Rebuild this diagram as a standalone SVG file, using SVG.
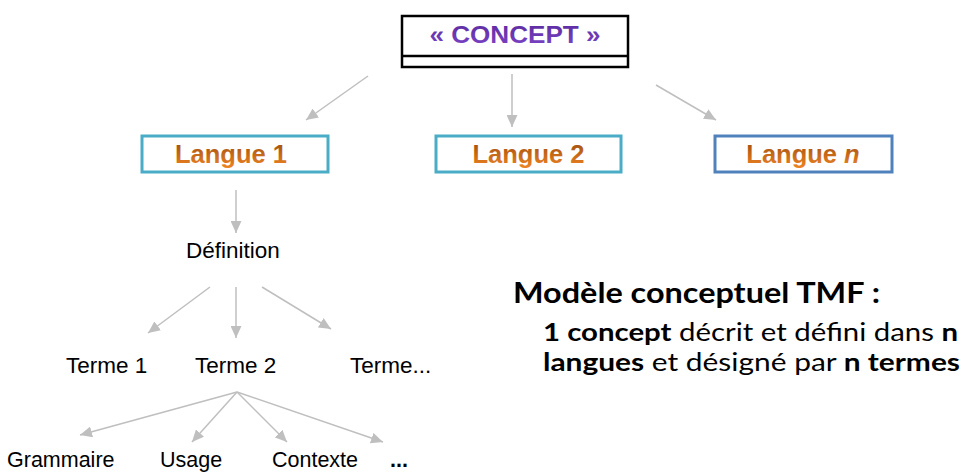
<svg xmlns="http://www.w3.org/2000/svg" width="964" height="472" viewBox="0 0 964 472">
<style>
.bg{fill:#ffffff}
.conn line{stroke:#BFBFBF;stroke-width:1.5;fill:none}
.lbl{font-family:"Liberation Sans",Arial,sans-serif;font-size:22.5px;fill:#000}
.small{font-size:21.5px}
.lang{font-family:"Liberation Sans",Arial,sans-serif;font-size:25.5px;font-weight:bold;text-anchor:middle;fill:url(#orange)}
.box1{fill:#fff;stroke:#4BACC6;stroke-width:3}
.boxn{fill:#fff;stroke:#4F81BD;stroke-width:3}
.cal{font-family:Lato,"Open Sans",sans-serif;fill:#000}
.b{font-weight:bold}
</style>
<defs>
<linearGradient id="orange" x1="0" y1="0" x2="0" y2="1">
<stop offset="0" stop-color="#9A4A0E"/>
<stop offset="1" stop-color="#EE8422"/>
</linearGradient>
<linearGradient id="purple" x1="0" y1="0" x2="0" y2="1">
<stop offset="0" stop-color="#5A2A9C"/>
<stop offset="1" stop-color="#7C44C8"/>
</linearGradient>
<marker id="arr" markerUnits="userSpaceOnUse" markerWidth="13" markerHeight="11" refX="12" refY="5.5" orient="auto">
<path d="M0,0 L12,5.5 L0,11 Z" fill="#BFBFBF"/>
</marker>
</defs>
<rect class="bg" x="0" y="0" width="964" height="472"/>

<g id="connectors" class="conn">
<line x1="368" y1="76" x2="306" y2="120" marker-end="url(#arr)"/>
<line x1="512" y1="74" x2="512" y2="127" marker-end="url(#arr)"/>
<line x1="656" y1="85" x2="716" y2="120" marker-end="url(#arr)"/>
<line x1="236" y1="190" x2="236" y2="233" marker-end="url(#arr)"/>
<line x1="210" y1="287" x2="148" y2="333" marker-end="url(#arr)"/>
<line x1="236" y1="287" x2="236" y2="338" marker-end="url(#arr)"/>
<line x1="262" y1="287" x2="331" y2="329" marker-end="url(#arr)"/>
<line x1="237" y1="392" x2="80" y2="435" marker-end="url(#arr)"/>
<line x1="237" y1="392" x2="192" y2="442" marker-end="url(#arr)"/>
<line x1="237" y1="392" x2="287" y2="442" marker-end="url(#arr)"/>
<line x1="237" y1="392" x2="383" y2="442" marker-end="url(#arr)"/>
</g>

<g id="concept">
<rect x="402" y="16" width="226" height="51" fill="#fff" stroke="#000" stroke-width="2.5"/>
<line x1="402" y1="56" x2="628" y2="56" stroke="#000" stroke-width="2.5"/>
<text x="515" y="43" font-family="'Liberation Sans',Arial,sans-serif" font-size="24" font-weight="bold" text-anchor="middle" fill="url(#purple)" textLength="171" lengthAdjust="spacingAndGlyphs">« CONCEPT »</text>
</g>

<g id="langue1">
<rect class="box1" x="142" y="136" width="186" height="36"/>
<text class="lang" x="231" y="163">Langue 1</text>
</g>
<g id="langue2">
<rect class="box1" x="436" y="136" width="185" height="36"/>
<text class="lang" x="528.5" y="163">Langue 2</text>
</g>
<g id="languen">
<rect class="boxn" x="715" y="136" width="177" height="36"/>
<text class="lang" x="803" y="163">Langue <tspan font-style="italic">n</tspan></text>
</g>

<g id="definition"><text class="lbl" x="186" y="258">Définition</text></g>
<g id="terme1"><text class="lbl" x="66" y="373">Terme 1</text></g>
<g id="terme2"><text class="lbl" x="195" y="373">Terme 2</text></g>
<g id="termex"><text class="lbl" x="350" y="373">Terme...</text></g>

<g id="grammaire"><text class="lbl small" x="7" y="467">Grammaire</text></g>
<g id="usage"><text class="lbl small" x="160" y="467">Usage</text></g>
<g id="contexte"><text class="lbl small" x="272" y="467">Contexte</text></g>
<g id="etc"><text class="lbl small" x="390" y="467" font-weight="bold">...</text></g>

<g id="note">
<text class="cal b" x="513" y="303" font-size="28" textLength="367" lengthAdjust="spacingAndGlyphs">Modèle conceptuel TMF :</text>
<text class="cal" x="543" y="341" font-size="25" textLength="415" lengthAdjust="spacingAndGlyphs"><tspan class="b">1 concept</tspan> décrit et défini dans <tspan class="b">n</tspan></text>
<text class="cal" x="543" y="371" font-size="25" textLength="417" lengthAdjust="spacingAndGlyphs"><tspan class="b">langues</tspan> et désigné par <tspan class="b">n termes</tspan></text>
</g>
</svg>
